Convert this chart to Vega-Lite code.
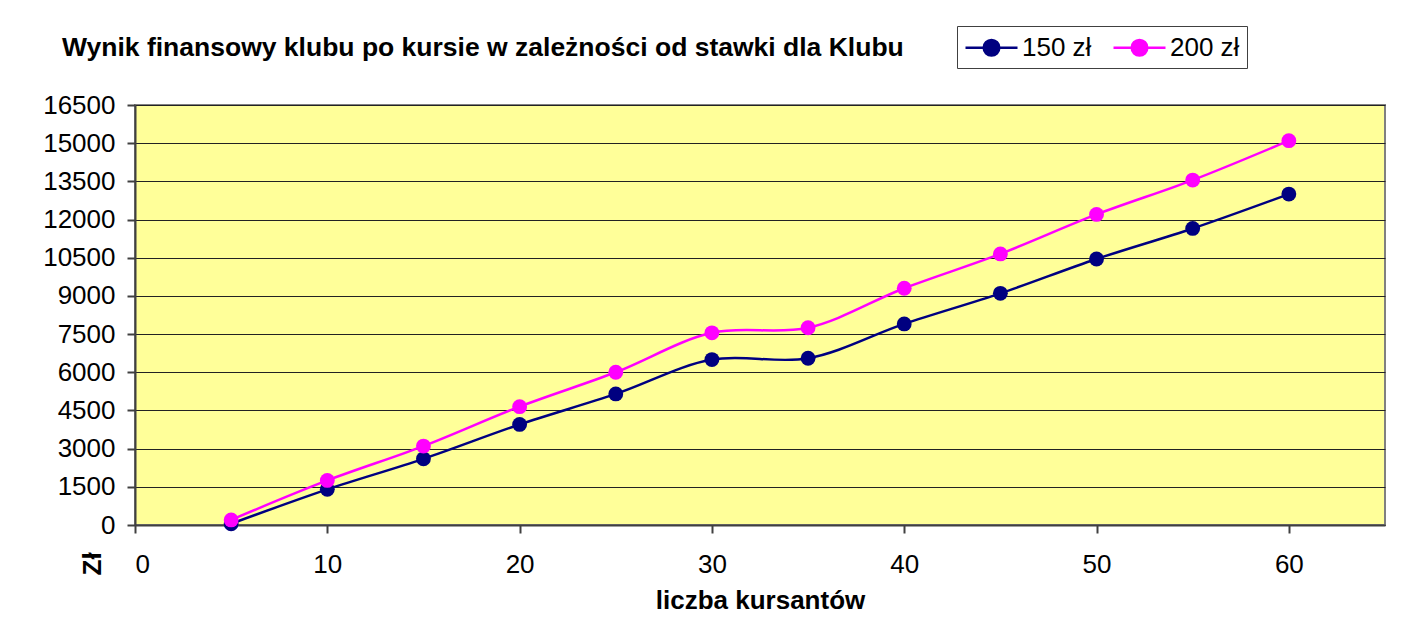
{
  "$schema": "https://vega.github.io/schema/vega-lite/v6.json",
  "width": 1250,
  "height": 420,
  "autosize": {"type": "none"},
  "padding": {"left": 135, "top": 105, "right": 25, "bottom": 99},
  "background": "white",
  "config": {
    "font": "Liberation Sans",
    "view": {"fill": "#FFFF99", "stroke": "#808080", "strokeWidth": 2}
  },
  "title": {
    "text": "Wynik finansowy klubu po kursie w zależności od stawki dla Klubu",
    "anchor": "start",
    "frame": "group",
    "dx": -73,
    "dy": 40,
    "fontSize": 26.5,
    "fontWeight": "bold",
    "color": "black",
    "font": "Liberation Sans"
  },
  "data": {
    "values": [
      {"kursanci": 5, "wynik": 50, "stawka": "150 zł"},
      {"kursanci": 10, "wynik": 1400, "stawka": "150 zł"},
      {"kursanci": 15, "wynik": 2600, "stawka": "150 zł"},
      {"kursanci": 20, "wynik": 3950, "stawka": "150 zł"},
      {"kursanci": 25, "wynik": 5150, "stawka": "150 zł"},
      {"kursanci": 30, "wynik": 6500, "stawka": "150 zł"},
      {"kursanci": 35, "wynik": 6550, "stawka": "150 zł"},
      {"kursanci": 40, "wynik": 7900, "stawka": "150 zł"},
      {"kursanci": 45, "wynik": 9100, "stawka": "150 zł"},
      {"kursanci": 50, "wynik": 10450, "stawka": "150 zł"},
      {"kursanci": 55, "wynik": 11650, "stawka": "150 zł"},
      {"kursanci": 60, "wynik": 13000, "stawka": "150 zł"},
      {"kursanci": 5, "wynik": 200, "stawka": "200 zł"},
      {"kursanci": 10, "wynik": 1750, "stawka": "200 zł"},
      {"kursanci": 15, "wynik": 3100, "stawka": "200 zł"},
      {"kursanci": 20, "wynik": 4650, "stawka": "200 zł"},
      {"kursanci": 25, "wynik": 6000, "stawka": "200 zł"},
      {"kursanci": 30, "wynik": 7550, "stawka": "200 zł"},
      {"kursanci": 35, "wynik": 7750, "stawka": "200 zł"},
      {"kursanci": 40, "wynik": 9300, "stawka": "200 zł"},
      {"kursanci": 45, "wynik": 10650, "stawka": "200 zł"},
      {"kursanci": 50, "wynik": 12200, "stawka": "200 zł"},
      {"kursanci": 55, "wynik": 13550, "stawka": "200 zł"},
      {"kursanci": 60, "wynik": 15100, "stawka": "200 zł"}
    ]
  },
  "mark": {
    "type": "line",
    "interpolate": "catmull-rom",
    "strokeWidth": 2.5,
    "point": {"filled": true, "size": 220, "opacity": 1}
  },
  "encoding": {
    "x": {
      "field": "kursanci",
      "type": "quantitative",
      "scale": {"domain": [0, 65], "nice": false},
      "axis": {
        "title": "liczba kursantów",
        "values": [0, 10, 20, 30, 40, 50, 60],
        "format": "d",
        "grid": false,
        "labelFontSize": 26,
        "labelColor": "black",
        "labelFont": "Liberation Sans",
        "labelPadding": 18,
        "tickSize": 8,
        "tickColor": "#404040",
        "tickWidth": 2,
        "domainColor": "#404040",
        "domainWidth": 2,
        "titleFontSize": 26,
        "titleFontWeight": "bold",
        "titleColor": "black",
        "titleFont": "Liberation Sans",
        "titleBaseline": "alphabetic",
        "titleY": 83
      }
    },
    "y": {
      "field": "wynik",
      "type": "quantitative",
      "scale": {"domain": [0, 16500], "nice": false},
      "axis": {
        "title": "Zł",
        "values": [0, 1500, 3000, 4500, 6000, 7500, 9000, 10500, 12000, 13500, 15000, 16500],
        "format": "d",
        "grid": true,
        "gridColor": "#222222",
        "gridWidth": 1,
        "gridOpacity": 1,
        "labelFontSize": 26,
        "labelColor": "black",
        "labelFont": "Liberation Sans",
        "labelPadding": 12,
        "tickSize": 8,
        "tickColor": "#404040",
        "tickWidth": 2,
        "domainColor": "#404040",
        "domainWidth": 2,
        "titleFontSize": 26,
        "titleFontWeight": "bold",
        "titleColor": "black",
        "titleFont": "Liberation Sans",
        "titleAngle": -90,
        "titleAlign": "left",
        "titleBaseline": "alphabetic",
        "titleX": -35,
        "titleY": 470
      }
    },
    "color": {
      "field": "stawka",
      "type": "nominal",
      "scale": {"domain": ["150 zł", "200 zł"], "range": ["#000080", "#FF00FF"]},
      "legend": {
        "title": null,
        "orient": "none",
        "legendX": 822,
        "legendY": -79,
        "direction": "horizontal",
        "strokeColor": "#404040",
        "padding": 7,
        "symbolType": "M-2,0H2M-0.6,0A0.6,0.6 0 1,0 0.6,0A0.6,0.6 0 1,0 -0.6,0",
        "symbolSize": 676,
        "symbolOffset": 13,
        "symbolStrokeWidth": 2.5,
        "labelFontSize": 26,
        "labelColor": "black",
        "labelFont": "Liberation Sans",
        "labelOffset": 16,
        "columnPadding": 16,
        "encode": {
          "symbols": {
            "update": {
              "fill": {"scale": "color", "field": "value"},
              "stroke": {"scale": "color", "field": "value"},
              "opacity": {"value": 1}
            }
          }
        }
      }
    }
  }
}
